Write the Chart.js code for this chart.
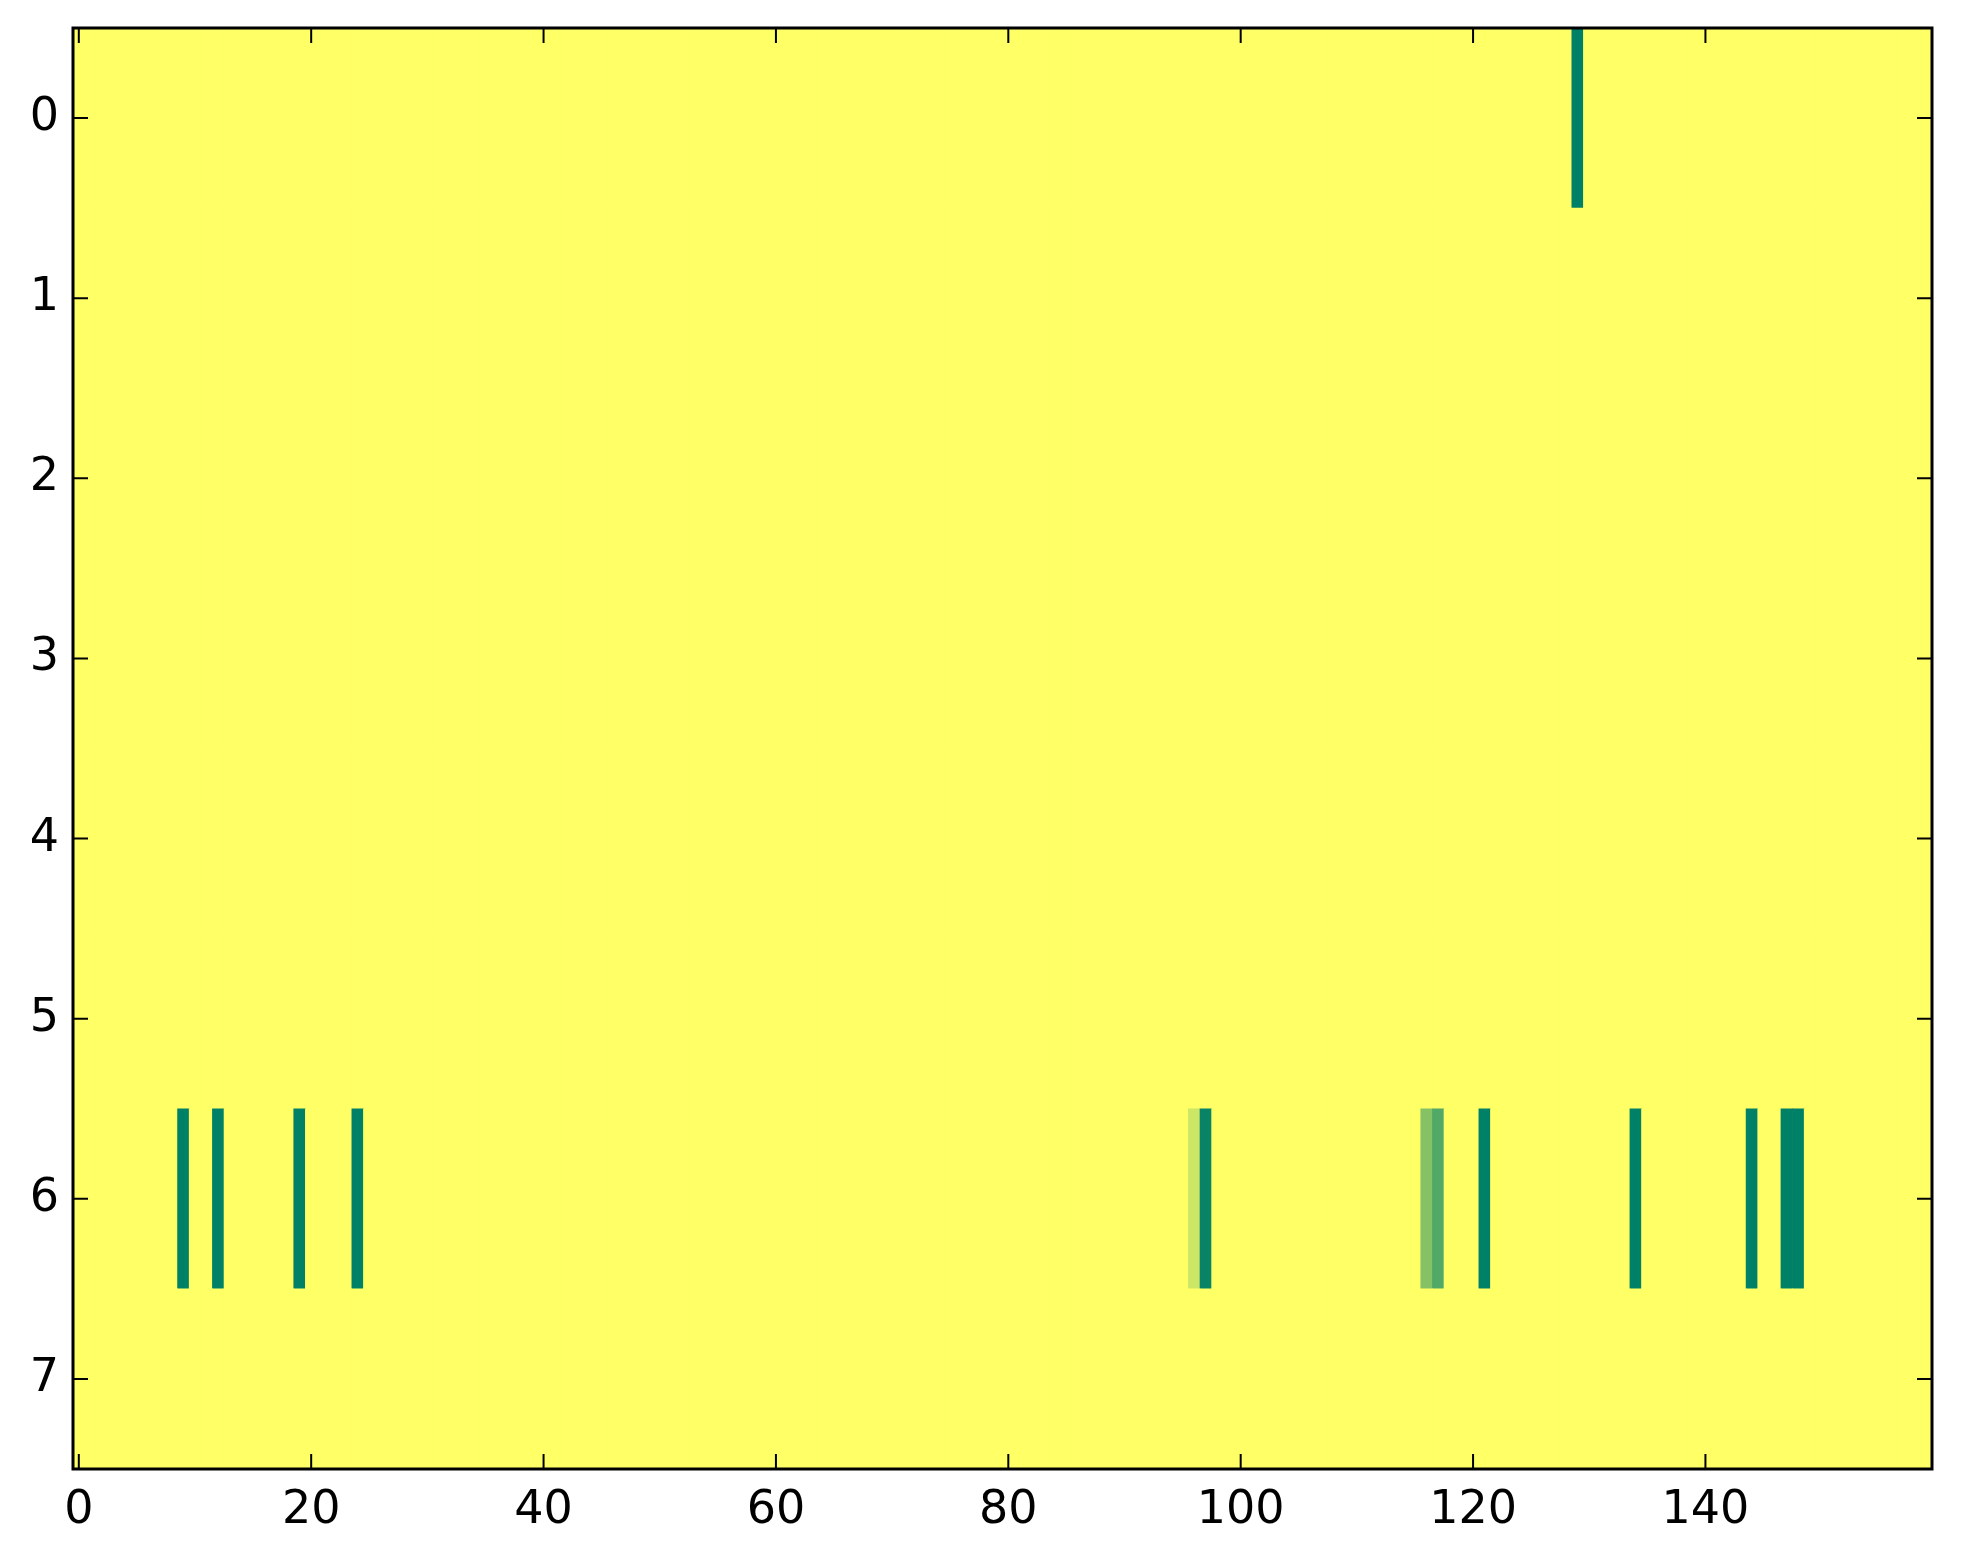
<!DOCTYPE html>
<html>
<head>
<meta charset="utf-8">
<script src="https://cdn.jsdelivr.net/npm/chart.js@4.4.1/dist/chart.umd.min.js"></script>
<style>
    html, body { margin: 0; padding: 0; background: #ffffff; }
    #wrap { width: 1963px; height: 1564px; }
</style>
</head>
<body>
<div id="wrap"><canvas id="heatmap" width="1963" height="1564"></canvas></div>
<script>
// 行と列
const rowLabels = [0, 1, 2, 3, 4, 5, 6, 7];
const colCount = 160;
const xTickLabels = [0, 20, 40, 60, 80, 100, 120, 140];

// 既定値 (黄色)
const baseValue = 1;

// 0行目の値
const row0Cols = [129];
const row0Vals = [0];

// 6行目の値
const row6Cols = [9, 12, 19, 24, 96, 97, 116, 117, 121, 134, 144, 147, 148];
const row6Vals = [0, 0, 0, 0, 0.8, 0.03, 0.52, 0.32, 0, 0, 0, 0, 0];

// summer カラーマップ
function summer(t) {
    const r = Math.round(255 * t);
    const g = Math.round(255 * (0.5 + 0.5 * t));
    const b = Math.round(255 * 0.4);
    return `rgb(${r},${g},${b})`;
}

// 行列の組み立て
const matrix = rowLabels.map(() => new Array(colCount).fill(baseValue));
row0Cols.forEach((c, i) => { matrix[0][c] = row0Vals[i]; });
row6Cols.forEach((c, i) => { matrix[6][c] = row6Vals[i]; });

const cells = [];
rowLabels.forEach(r => {
    for (let c = 0; c < colCount; c++) {
        cells.push({ x: c, y: [r - 0.5, r + 0.5], v: matrix[r][c] });
    }
});

// 枠と内向きの目盛りを描くプラグイン
const framePlugin = {
    id: 'frame',
    beforeDatasetsDraw(chart) {
        const { ctx, chartArea: { left, right, top, bottom } } = chart;
        ctx.save();
        ctx.fillStyle = summer(baseValue);
        ctx.fillRect(left, top, right - left, bottom - top);
        ctx.restore();
    },
    afterDraw(chart) {
        const { ctx, chartArea: { left, right, top, bottom }, scales: { x, y } } = chart;
        const len = 15;
        ctx.save();
        ctx.strokeStyle = '#000';
        ctx.lineWidth = 2;
        ctx.beginPath();
        xTickLabels.forEach(v => {
            const px = x.getPixelForValue(v);
            ctx.moveTo(px, bottom);
            ctx.lineTo(px, bottom - len);
            ctx.moveTo(px, top);
            ctx.lineTo(px, top + len);
        });
        rowLabels.forEach(v => {
            const py = y.getPixelForValue(v);
            ctx.moveTo(left, py);
            ctx.lineTo(left + len, py);
            ctx.moveTo(right, py);
            ctx.lineTo(right - len, py);
        });
        ctx.stroke();

        ctx.lineWidth = 3;
        ctx.strokeRect(left, top, right - left, bottom - top);
        ctx.restore();
    }
};

const tickFont = { family: 'DejaVu Sans', size: 46 };

new Chart(document.getElementById('heatmap').getContext('2d'), {
    type: 'bar',
    data: {
        datasets: [{
            data: cells,
            backgroundColor: (ctx) => summer(ctx.raw ? ctx.raw.v : baseValue),
            borderWidth: 0,
            grouped: false,
            barPercentage: 1,
            categoryPercentage: 1
        }]
    },
    plugins: [framePlugin],
    options: {
        responsive: false,
        animation: false,
        layout: { padding: { left: 0, top: 28, right: 31, bottom: 0 } },
        plugins: {
            legend: { display: false },
            tooltip: { enabled: false }
        },
        scales: {
            x: {
                type: 'linear',
                min: -0.5,
                max: colCount - 0.5,
                offset: false,
                grid: { display: false, drawTicks: false },
                border: { display: false },
                afterBuildTicks: (scale) => { scale.ticks = xTickLabels.map(v => ({ value: v })); },
                afterFit: (scale) => { scale.height = 95; scale.paddingLeft = 0; scale.paddingRight = 0; },
                ticks: { font: tickFont, color: '#000', padding: 14, maxRotation: 0 }
            },
            y: {
                type: 'linear',
                reverse: true,
                min: -0.5,
                max: rowLabels.length - 0.5,
                grid: { display: false, drawTicks: false },
                border: { display: false },
                afterBuildTicks: (scale) => { scale.ticks = rowLabels.map(v => ({ value: v })); },
                afterFit: (scale) => { scale.width = 73; scale.paddingTop = 0; scale.paddingBottom = 0; },
                ticks: { font: tickFont, color: '#000', padding: 14 }
            }
        }
    }
});
</script>
</body>
</html>
